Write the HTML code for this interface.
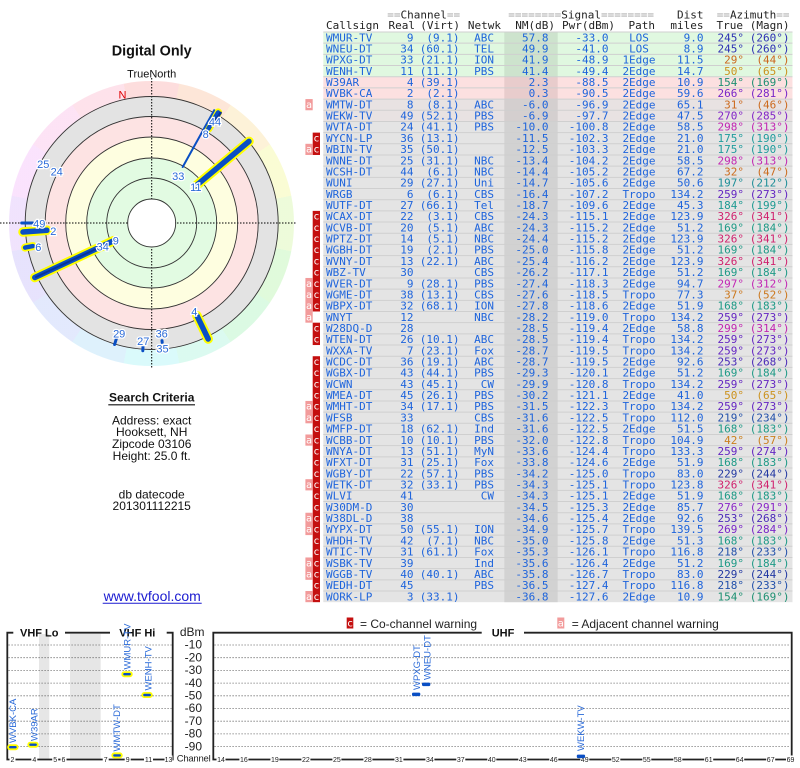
<!DOCTYPE html>
<html><head><meta charset="utf-8"><style>
html,body{margin:0;padding:0;background:#fff;width:800px;height:768px;overflow:hidden;position:relative}
.ring{position:absolute;border-radius:50%}
svg{position:absolute;left:0;top:0}
.e{text-anchor:end}.mid{text-anchor:middle}
.pl text{paint-order:stroke}
</style></head><body>
<div class="ring" style="left:9.2px;top:80.5px;width:285px;height:285px;background:conic-gradient(from -11.25deg, hsl(0,90%,93%) 0deg 22.5deg, hsl(22,90%,92%) 22.5deg 45deg, hsl(42,90%,92%) 45deg 67.5deg, hsl(62,85%,91%) 67.5deg 90deg, hsl(85,80%,92%) 90deg 112.5deg, hsl(110,75%,92%) 112.5deg 135deg, hsl(135,75%,92%) 135deg 157.5deg, hsl(160,75%,92%) 157.5deg 180deg, hsl(182,80%,92%) 180deg 202.5deg, hsl(202,85%,93%) 202.5deg 225deg, hsl(225,85%,94%) 225deg 247.5deg, hsl(250,85%,94%) 247.5deg 270deg, hsl(272,85%,94%) 270deg 292.5deg, hsl(295,85%,94%) 292.5deg 315deg, hsl(318,85%,94%) 315deg 337.5deg, hsl(340,90%,94%) 337.5deg 360deg)"></div>
<div class="ring" style="left:25.2px;top:96.5px;width:253px;height:253px;background:#e3e3e3"></div>
<div class="ring" style="left:45.2px;top:116.5px;width:213px;height:213px;background:#fde3e3"></div>
<div class="ring" style="left:65.7px;top:137px;width:172px;height:172px;background:#fefee0"></div>
<div class="ring" style="left:86.7px;top:158px;width:130px;height:130px;background:#e2fbe2"></div>

<svg width="800" height="768" viewBox="0 0 800 768" xmlns="http://www.w3.org/2000/svg">
<!-- ============ POLAR PLOT ============ -->
<g font-family="Liberation Sans, Arial, sans-serif">
<text x="151.7" y="55.5" class="mid" font-size="14.4" font-weight="bold" fill="#111">Digital Only</text>
<text x="151.7" y="77.5" class="mid" font-size="11" fill="#111">TrueNorth</text>
</g>
<g stroke="#000" stroke-width="1" stroke-dasharray="1.5,1.5">
<line x1="0" y1="223" x2="297" y2="223"/>
<line x1="151.7" y1="78" x2="151.7" y2="368"/>
</g>
<circle cx="151.7" cy="223" r="23.5" fill="#fff"/>
<g fill="none" stroke="#333" stroke-width="0.9">
<circle cx="151.7" cy="223" r="24"/>
<circle cx="151.7" cy="223" r="45"/>
<circle cx="151.7" cy="223" r="65"/>
<circle cx="151.7" cy="223" r="86"/>
<circle cx="151.7" cy="223" r="106.5"/>
<circle cx="151.7" cy="223" r="126.5"/>
</g>
<text x="122.5" y="98.3" class="mid" font-family="Liberation Sans, Arial, sans-serif" font-size="11" fill="#e00000">N</text>
<!-- bars -->
<g stroke-linecap="round">
<g stroke="#ffff00">
<line x1="113.6" y1="240.7" x2="34.8" y2="277.5" stroke-width="9.5"/>
<line x1="196.1" y1="185.7" x2="249" y2="141.4" stroke-width="9.5"/>
<line x1="47" y1="230.3" x2="23" y2="232" stroke-width="9.5"/>
<line x1="196.9" y1="315.6" x2="208.2" y2="339" stroke-width="9.5"/>
<line x1="208.4" y1="128.7" x2="218.1" y2="112.4" stroke-width="8"/>
<line x1="32.9" y1="246.1" x2="25.1" y2="247.6" stroke-width="8"/>
</g>
<g stroke="#0a4fc4">
<line x1="113.6" y1="240.7" x2="34.8" y2="277.5" stroke-width="5.5"/>
<line x1="196.1" y1="185.7" x2="249" y2="141.4" stroke-width="5.5"/>
<line x1="47" y1="230.3" x2="23" y2="232" stroke-width="5.5"/>
<line x1="196.9" y1="315.6" x2="208.2" y2="339" stroke-width="5.5"/>
<line x1="208.4" y1="128.7" x2="218.1" y2="112.4" stroke-width="4.5"/>
<line x1="32.9" y1="246.1" x2="25.1" y2="247.6" stroke-width="4.5"/>
<line x1="182.7" y1="167" x2="214.2" y2="110.2" stroke-width="2"/>
<line x1="32.7" y1="223" x2="21.7" y2="223" stroke-width="3"/>
<line x1="116.6" y1="337.8" x2="114.6" y2="344.5" stroke-width="3"/>
<line x1="143" y1="346.7" x2="142.8" y2="350.7" stroke-width="3"/>
<line x1="162" y1="340.6" x2="162.2" y2="342.5" stroke-width="3"/>
</g>
<line x1="104.6" y1="245" x2="36" y2="277" stroke="#08359a" stroke-width="2"/>
<line x1="214.2" y1="122.9" x2="220.6" y2="112.8" stroke="#08359a" stroke-width="2.5"/>
</g>
<g class="pl" font-family="Liberation Sans, Arial, sans-serif" font-size="11" fill="#2a6ad8" stroke="#fff" stroke-width="2.5" text-anchor="middle">
<text x="215" y="125.7">44</text>
<text x="205.7" y="138">8</text>
<text x="178.3" y="179.8">33</text>
<text x="195.8" y="191">11</text>
<text x="43.3" y="168">25</text>
<text x="56.7" y="175.7">24</text>
<text x="39.3" y="227.3">49</text>
<text x="53.3" y="234.8">2</text>
<text x="38.3" y="251">6</text>
<text x="102.8" y="250.5">34</text>
<text x="115.8" y="244.3">9</text>
<text x="194.3" y="315.7">4</text>
<text x="119.2" y="337.3">29</text>
<text x="143.3" y="345">27</text>
<text x="161.7" y="337.3">36</text>
<text x="162.5" y="352.5">35</text>
</g>

<!-- ============ SEARCH CRITERIA ============ -->
<g font-family="Liberation Sans, Arial, sans-serif" fill="#111" text-anchor="middle">
<text x="151.7" y="401.5" font-size="12" font-weight="bold">Search Criteria</text>
<line x1="108.3" y1="404.8" x2="195" y2="404.8" stroke="#111" stroke-width="1.2"/>
<text x="151.7" y="424.3" font-size="12">Address: exact</text>
<text x="151.7" y="436.2" font-size="12">Hooksett, NH</text>
<text x="151.7" y="448.1" font-size="12">Zipcode 03106</text>
<text x="151.7" y="460" font-size="12">Height: 25.0 ft.</text>
<text x="151.7" y="498.3" font-size="12">db datecode</text>
<text x="151.7" y="510" font-size="12">201301112215</text>
<text x="152.2" y="601" font-size="14" fill="#1a1ad0">www.tvfool.com</text>
<line x1="102.7" y1="603.2" x2="201.7" y2="603.2" stroke="#1a1ad0" stroke-width="1"/>
</g>

<!-- ============ TABLE BACKGROUND ============ -->
<rect x="323.3" y="32" width="469.2" height="44.72" fill="#e0f8e0"/>
<rect x="323.3" y="76.72" width="469.2" height="22.36" fill="#fce0e0"/>
<rect x="323.3" y="99.08" width="469.2" height="22.36" fill="#e8e2e2"/>
<rect x="323.3" y="121.44" width="469.2" height="480.74" fill="#e4e4e4"/>
<rect x="504.3" y="32" width="53.4" height="44.72" fill="#cde3cd"/>
<rect x="504.3" y="76.72" width="53.4" height="22.36" fill="#e8cccc"/>
<rect x="504.3" y="99.08" width="53.4" height="22.36" fill="#d4cfcf"/>
<rect x="504.3" y="121.44" width="53.4" height="480.74" fill="#d2d2d2"/>
<g stroke="#cfcfcf" stroke-width="1">
<line x1="323.3" x2="792.5" y1="32" y2="32"/><line x1="323.3" x2="792.5" y1="43.18" y2="43.18"/><line x1="323.3" x2="792.5" y1="54.36" y2="54.36"/><line x1="323.3" x2="792.5" y1="65.54" y2="65.54"/><line x1="323.3" x2="792.5" y1="76.72" y2="76.72"/><line x1="323.3" x2="792.5" y1="87.9" y2="87.9"/><line x1="323.3" x2="792.5" y1="99.08" y2="99.08"/><line x1="323.3" x2="792.5" y1="110.26" y2="110.26"/><line x1="323.3" x2="792.5" y1="121.44" y2="121.44"/><line x1="323.3" x2="792.5" y1="132.62" y2="132.62"/><line x1="323.3" x2="792.5" y1="143.8" y2="143.8"/><line x1="323.3" x2="792.5" y1="154.98" y2="154.98"/><line x1="323.3" x2="792.5" y1="166.16" y2="166.16"/><line x1="323.3" x2="792.5" y1="177.34" y2="177.34"/><line x1="323.3" x2="792.5" y1="188.52" y2="188.52"/><line x1="323.3" x2="792.5" y1="199.7" y2="199.7"/><line x1="323.3" x2="792.5" y1="210.88" y2="210.88"/><line x1="323.3" x2="792.5" y1="222.06" y2="222.06"/><line x1="323.3" x2="792.5" y1="233.24" y2="233.24"/><line x1="323.3" x2="792.5" y1="244.42" y2="244.42"/><line x1="323.3" x2="792.5" y1="255.6" y2="255.6"/><line x1="323.3" x2="792.5" y1="266.78" y2="266.78"/><line x1="323.3" x2="792.5" y1="277.96" y2="277.96"/><line x1="323.3" x2="792.5" y1="289.14" y2="289.14"/><line x1="323.3" x2="792.5" y1="300.32" y2="300.32"/><line x1="323.3" x2="792.5" y1="311.5" y2="311.5"/><line x1="323.3" x2="792.5" y1="322.68" y2="322.68"/><line x1="323.3" x2="792.5" y1="333.86" y2="333.86"/><line x1="323.3" x2="792.5" y1="345.04" y2="345.04"/><line x1="323.3" x2="792.5" y1="356.22" y2="356.22"/><line x1="323.3" x2="792.5" y1="367.4" y2="367.4"/><line x1="323.3" x2="792.5" y1="378.58" y2="378.58"/><line x1="323.3" x2="792.5" y1="389.76" y2="389.76"/><line x1="323.3" x2="792.5" y1="400.94" y2="400.94"/><line x1="323.3" x2="792.5" y1="412.12" y2="412.12"/><line x1="323.3" x2="792.5" y1="423.3" y2="423.3"/><line x1="323.3" x2="792.5" y1="434.48" y2="434.48"/><line x1="323.3" x2="792.5" y1="445.66" y2="445.66"/><line x1="323.3" x2="792.5" y1="456.84" y2="456.84"/><line x1="323.3" x2="792.5" y1="468.02" y2="468.02"/><line x1="323.3" x2="792.5" y1="479.2" y2="479.2"/><line x1="323.3" x2="792.5" y1="490.38" y2="490.38"/><line x1="323.3" x2="792.5" y1="501.56" y2="501.56"/><line x1="323.3" x2="792.5" y1="512.74" y2="512.74"/><line x1="323.3" x2="792.5" y1="523.92" y2="523.92"/><line x1="323.3" x2="792.5" y1="535.1" y2="535.1"/><line x1="323.3" x2="792.5" y1="546.28" y2="546.28"/><line x1="323.3" x2="792.5" y1="557.46" y2="557.46"/><line x1="323.3" x2="792.5" y1="568.64" y2="568.64"/><line x1="323.3" x2="792.5" y1="579.82" y2="579.82"/><line x1="323.3" x2="792.5" y1="591" y2="591"/>
</g>

<!-- warning marks -->
<g fill="#c40f0f">
<rect x="312.7" y="132.62" width="7.3" height="22.36"/>
<rect x="312.7" y="210.88" width="7.3" height="100.62"/>
<rect x="312.7" y="322.68" width="7.3" height="22.36"/>
<rect x="312.7" y="356.22" width="7.3" height="245.96"/>
</g>
<g fill="#f29b9b">
<rect x="305.4" y="99.08" width="7.3" height="11.18"/>
<rect x="305.4" y="143.8" width="7.3" height="11.18"/>
<rect x="305.4" y="277.96" width="7.3" height="44.72"/>
<rect x="305.4" y="400.94" width="7.3" height="22.36"/>
<rect x="305.4" y="434.48" width="7.3" height="11.18"/>
<rect x="305.4" y="479.2" width="7.3" height="11.18"/>
<rect x="305.4" y="512.74" width="7.3" height="22.36"/>
<rect x="305.4" y="557.46" width="7.3" height="22.36"/>
<rect x="305.4" y="591" width="7.3" height="11.18"/>
</g>
<g font-family="DejaVu Sans Mono, Liberation Mono, monospace" font-size="10" fill="#fff" text-anchor="middle">
<text x="309" y="107.9">a</text><text x="309" y="152.6">a</text><text x="309" y="286.8">a</text><text x="309" y="297.9">a</text><text x="309" y="309.1">a</text><text x="309" y="320.3">a</text><text x="309" y="409.7">a</text><text x="309" y="420.9">a</text><text x="309" y="443.3">a</text><text x="309" y="488">a</text><text x="309" y="521.5">a</text><text x="309" y="532.7">a</text><text x="309" y="566.3">a</text><text x="309" y="577.4">a</text><text x="309" y="599.8">a</text>
<text x="316.4" y="141.4">c</text><text x="316.4" y="152.6">c</text><text x="316.4" y="219.7">c</text><text x="316.4" y="230.9">c</text><text x="316.4" y="242">c</text><text x="316.4" y="253.2">c</text><text x="316.4" y="264.4">c</text><text x="316.4" y="275.6">c</text><text x="316.4" y="286.8">c</text><text x="316.4" y="297.9">c</text><text x="316.4" y="309.1">c</text><text x="316.4" y="331.5">c</text><text x="316.4" y="342.7">c</text><text x="316.4" y="365">c</text><text x="316.4" y="376.2">c</text><text x="316.4" y="387.4">c</text><text x="316.4" y="398.6">c</text><text x="316.4" y="409.7">c</text><text x="316.4" y="420.9">c</text><text x="316.4" y="432.1">c</text><text x="316.4" y="443.3">c</text><text x="316.4" y="454.5">c</text><text x="316.4" y="465.6">c</text><text x="316.4" y="476.8">c</text><text x="316.4" y="488">c</text><text x="316.4" y="499.2">c</text><text x="316.4" y="510.4">c</text><text x="316.4" y="521.5">c</text><text x="316.4" y="532.7">c</text><text x="316.4" y="543.9">c</text><text x="316.4" y="555.1">c</text><text x="316.4" y="566.3">c</text><text x="316.4" y="577.4">c</text><text x="316.4" y="588.6">c</text><text x="316.4" y="599.8">c</text>
</g>

<!-- ============ TABLE TEXT ============ -->
<g font-family="DejaVu Sans Mono, Liberation Mono, monospace" font-size="11" fill="#222">
<text x="387.3" y="18.3"><tspan fill="#a0a0a0">==</tspan>Channel<tspan fill="#a0a0a0">==</tspan></text>
<text x="508.3" y="18.3"><tspan fill="#a0a0a0">========</tspan>Signal<tspan fill="#a0a0a0">========</tspan></text>
<text x="703.5" y="18.3" class="e">Dist</text>
<text x="716.7" y="18.3"><tspan fill="#a0a0a0">==</tspan>Azimuth<tspan fill="#a0a0a0">==</tspan></text>
<text x="326" y="29.2">Callsign</text>
<text x="415" y="29.2" class="e">Real</text>
<text x="460" y="29.2" class="e">(Virt)</text>
<text x="501" y="29.2" class="e">Netwk</text>
<text x="555" y="29.2" class="e">NM(dB)</text>
<text x="615" y="29.2" class="e">Pwr(dBm)</text>
<text x="655" y="29.2" class="e">Path</text>
<text x="703.5" y="29.2" class="e">miles</text>
<text x="743" y="29.2" class="e">True</text>
<text x="789.5" y="29.2" class="e">(Magn)</text>
</g>

<g font-family="DejaVu Sans Mono, Liberation Mono, monospace" font-size="11" fill="#1e64dc">
<g transform="translate(0,41.3)"><text x="326">WMUR-TV</text><text class="e" x="413.5">9</text><text class="e" x="459.5">(9.1)</text><text class="e" x="494">ABC</text><text class="e" x="548.5">57.8</text><text class="e" x="608.5">-33.0</text><text class="mid" x="639">LOS</text><text class="e" x="703.5">9.0</text><g fill="#2e2eb4"><text class="e" x="744">245°</text><text class="e" x="789.5">(260°)</text></g></g>
<g transform="translate(0,52.48)"><text x="326">WNEU-DT</text><text class="e" x="413.5">34</text><text class="e" x="459.5">(60.1)</text><text class="e" x="494">TEL</text><text class="e" x="548.5">49.9</text><text class="e" x="608.5">-41.0</text><text class="mid" x="639">LOS</text><text class="e" x="703.5">8.9</text><g fill="#2e2eb4"><text class="e" x="744">245°</text><text class="e" x="789.5">(260°)</text></g></g>
<g transform="translate(0,63.66)"><text x="326">WPXG-DT</text><text class="e" x="413.5">33</text><text class="e" x="459.5">(21.1)</text><text class="e" x="494">ION</text><text class="e" x="548.5">41.9</text><text class="e" x="608.5">-48.9</text><text class="mid" x="639">1Edge</text><text class="e" x="703.5">11.5</text><g fill="#cc661e"><text class="e" x="744">29°</text><text class="e" x="789.5">(44°)</text></g></g>
<g transform="translate(0,74.84)"><text x="326">WENH-TV</text><text class="e" x="413.5">11</text><text class="e" x="459.5">(11.1)</text><text class="e" x="494">PBS</text><text class="e" x="548.5">41.4</text><text class="e" x="608.5">-49.4</text><text class="mid" x="639">2Edge</text><text class="e" x="703.5">14.7</text><g fill="#cc921e"><text class="e" x="744">50°</text><text class="e" x="789.5">(65°)</text></g></g>
<g transform="translate(0,86.02)"><text x="326">W39AR</text><text class="e" x="413.5">4</text><text class="e" x="459.5">(39.1)</text><text class="e" x="548.5">2.3</text><text class="e" x="608.5">-88.5</text><text class="mid" x="639">2Edge</text><text class="e" x="703.5">10.9</text><g fill="#1e9072"><text class="e" x="744">154°</text><text class="e" x="789.5">(169°)</text></g></g>
<g transform="translate(0,97.2)"><text x="326">WVBK-CA</text><text class="e" x="413.5">2</text><text class="e" x="459.5">(2.1)</text><text class="e" x="548.5">0.3</text><text class="e" x="608.5">-90.5</text><text class="mid" x="639">2Edge</text><text class="e" x="703.5">59.6</text><g fill="#7826c8"><text class="e" x="744">266°</text><text class="e" x="789.5">(281°)</text></g></g>
<g transform="translate(0,108.38)"><text x="326">WMTW-DT</text><text class="e" x="413.5">8</text><text class="e" x="459.5">(8.1)</text><text class="e" x="494">ABC</text><text class="e" x="548.5">-6.0</text><text class="e" x="608.5">-96.9</text><text class="mid" x="639">2Edge</text><text class="e" x="703.5">65.1</text><g fill="#cc6a1e"><text class="e" x="744">31°</text><text class="e" x="789.5">(46°)</text></g></g>
<g transform="translate(0,119.56)"><text x="326">WEKW-TV</text><text class="e" x="413.5">49</text><text class="e" x="459.5">(52.1)</text><text class="e" x="494">PBS</text><text class="e" x="548.5">-6.9</text><text class="e" x="608.5">-97.7</text><text class="mid" x="639">2Edge</text><text class="e" x="703.5">47.5</text><g fill="#8226c8"><text class="e" x="744">270°</text><text class="e" x="789.5">(285°)</text></g></g>
<g transform="translate(0,130.74)"><text x="326">WVTA-DT</text><text class="e" x="413.5">24</text><text class="e" x="459.5">(41.1)</text><text class="e" x="494">PBS</text><text class="e" x="548.5">-10.0</text><text class="e" x="608.5">-100.8</text><text class="mid" x="639">2Edge</text><text class="e" x="703.5">58.5</text><g fill="#c226b2"><text class="e" x="744">298°</text><text class="e" x="789.5">(313°)</text></g></g>
<g transform="translate(0,141.92)"><text x="326">WYCN-LP</text><text class="e" x="413.5">36</text><text class="e" x="459.5">(13.1)</text><text class="e" x="548.5">-11.5</text><text class="e" x="608.5">-102.3</text><text class="mid" x="639">2Edge</text><text class="e" x="703.5">21.0</text><g fill="#1e9c9c"><text class="e" x="744">175°</text><text class="e" x="789.5">(190°)</text></g></g>
<g transform="translate(0,153.1)"><text x="326">WBIN-TV</text><text class="e" x="413.5">35</text><text class="e" x="459.5">(50.1)</text><text class="e" x="548.5">-12.5</text><text class="e" x="608.5">-103.3</text><text class="mid" x="639">2Edge</text><text class="e" x="703.5">21.0</text><g fill="#1e9c9c"><text class="e" x="744">175°</text><text class="e" x="789.5">(190°)</text></g></g>
<g transform="translate(0,164.28)"><text x="326">WNNE-DT</text><text class="e" x="413.5">25</text><text class="e" x="459.5">(31.1)</text><text class="e" x="494">NBC</text><text class="e" x="548.5">-13.4</text><text class="e" x="608.5">-104.2</text><text class="mid" x="639">2Edge</text><text class="e" x="703.5">58.5</text><g fill="#c226b2"><text class="e" x="744">298°</text><text class="e" x="789.5">(313°)</text></g></g>
<g transform="translate(0,175.46)"><text x="326">WCSH-DT</text><text class="e" x="413.5">44</text><text class="e" x="459.5">(6.1)</text><text class="e" x="494">NBC</text><text class="e" x="548.5">-14.4</text><text class="e" x="608.5">-105.2</text><text class="mid" x="639">2Edge</text><text class="e" x="703.5">67.2</text><g fill="#cc6c1e"><text class="e" x="744">32°</text><text class="e" x="789.5">(47°)</text></g></g>
<g transform="translate(0,186.64)"><text x="326">WUNI</text><text class="e" x="413.5">29</text><text class="e" x="459.5">(27.1)</text><text class="e" x="494">Uni</text><text class="e" x="548.5">-14.7</text><text class="e" x="608.5">-105.6</text><text class="mid" x="639">2Edge</text><text class="e" x="703.5">50.6</text><g fill="#1e8e98"><text class="e" x="744">197°</text><text class="e" x="789.5">(212°)</text></g></g>
<g transform="translate(0,197.82)"><text x="326">WRGB</text><text class="e" x="413.5">6</text><text class="e" x="459.5">(6.1)</text><text class="e" x="494">CBS</text><text class="e" x="548.5">-16.4</text><text class="e" x="608.5">-107.2</text><text class="mid" x="639">Tropo</text><text class="e" x="703.5">134.2</text><g fill="#6426c2"><text class="e" x="744">259°</text><text class="e" x="789.5">(273°)</text></g></g>
<g transform="translate(0,209)"><text x="326">WUTF-DT</text><text class="e" x="413.5">27</text><text class="e" x="459.5">(66.1)</text><text class="e" x="494">Tel</text><text class="e" x="548.5">-18.7</text><text class="e" x="608.5">-109.6</text><text class="mid" x="639">2Edge</text><text class="e" x="703.5">45.3</text><g fill="#1e9a92"><text class="e" x="744">184°</text><text class="e" x="789.5">(199°)</text></g></g>
<g transform="translate(0,220.18)"><text x="326">WCAX-DT</text><text class="e" x="413.5">22</text><text class="e" x="459.5">(3.1)</text><text class="e" x="494">CBS</text><text class="e" x="548.5">-24.3</text><text class="e" x="608.5">-115.1</text><text class="mid" x="639">2Edge</text><text class="e" x="703.5">123.9</text><g fill="#d0226e"><text class="e" x="744">326°</text><text class="e" x="789.5">(341°)</text></g></g>
<g transform="translate(0,231.36)"><text x="326">WCVB-DT</text><text class="e" x="413.5">20</text><text class="e" x="459.5">(5.1)</text><text class="e" x="494">ABC</text><text class="e" x="548.5">-24.3</text><text class="e" x="608.5">-115.2</text><text class="mid" x="639">2Edge</text><text class="e" x="703.5">51.2</text><g fill="#1e9a86"><text class="e" x="744">169°</text><text class="e" x="789.5">(184°)</text></g></g>
<g transform="translate(0,242.54)"><text x="326">WPTZ-DT</text><text class="e" x="413.5">14</text><text class="e" x="459.5">(5.1)</text><text class="e" x="494">NBC</text><text class="e" x="548.5">-24.4</text><text class="e" x="608.5">-115.2</text><text class="mid" x="639">2Edge</text><text class="e" x="703.5">123.9</text><g fill="#d0226e"><text class="e" x="744">326°</text><text class="e" x="789.5">(341°)</text></g></g>
<g transform="translate(0,253.72)"><text x="326">WGBH-DT</text><text class="e" x="413.5">19</text><text class="e" x="459.5">(2.1)</text><text class="e" x="494">PBS</text><text class="e" x="548.5">-25.0</text><text class="e" x="608.5">-115.8</text><text class="mid" x="639">2Edge</text><text class="e" x="703.5">51.2</text><g fill="#1e9a86"><text class="e" x="744">169°</text><text class="e" x="789.5">(184°)</text></g></g>
<g transform="translate(0,264.9)"><text x="326">WVNY-DT</text><text class="e" x="413.5">13</text><text class="e" x="459.5">(22.1)</text><text class="e" x="494">ABC</text><text class="e" x="548.5">-25.4</text><text class="e" x="608.5">-116.2</text><text class="mid" x="639">2Edge</text><text class="e" x="703.5">123.9</text><g fill="#d0226e"><text class="e" x="744">326°</text><text class="e" x="789.5">(341°)</text></g></g>
<g transform="translate(0,276.08)"><text x="326">WBZ-TV</text><text class="e" x="413.5">30</text><text class="e" x="494">CBS</text><text class="e" x="548.5">-26.2</text><text class="e" x="608.5">-117.1</text><text class="mid" x="639">2Edge</text><text class="e" x="703.5">51.2</text><g fill="#1e9a86"><text class="e" x="744">169°</text><text class="e" x="789.5">(184°)</text></g></g>
<g transform="translate(0,287.26)"><text x="326">WVER-DT</text><text class="e" x="413.5">9</text><text class="e" x="459.5">(28.1)</text><text class="e" x="494">PBS</text><text class="e" x="548.5">-27.4</text><text class="e" x="608.5">-118.3</text><text class="mid" x="639">2Edge</text><text class="e" x="703.5">94.7</text><g fill="#c226b4"><text class="e" x="744">297°</text><text class="e" x="789.5">(312°)</text></g></g>
<g transform="translate(0,298.44)"><text x="326">WGME-DT</text><text class="e" x="413.5">38</text><text class="e" x="459.5">(13.1)</text><text class="e" x="494">CBS</text><text class="e" x="548.5">-27.6</text><text class="e" x="608.5">-118.5</text><text class="mid" x="639">Tropo</text><text class="e" x="703.5">77.3</text><g fill="#cc781e"><text class="e" x="744">37°</text><text class="e" x="789.5">(52°)</text></g></g>
<g transform="translate(0,309.62)"><text x="326">WBPX-DT</text><text class="e" x="413.5">32</text><text class="e" x="459.5">(68.1)</text><text class="e" x="494">ION</text><text class="e" x="548.5">-27.8</text><text class="e" x="608.5">-118.6</text><text class="mid" x="639">2Edge</text><text class="e" x="703.5">51.9</text><g fill="#1e9a86"><text class="e" x="744">168°</text><text class="e" x="789.5">(183°)</text></g></g>
<g transform="translate(0,320.8)"><text x="326">WNYT</text><text class="e" x="413.5">12</text><text class="e" x="494">NBC</text><text class="e" x="548.5">-28.2</text><text class="e" x="608.5">-119.0</text><text class="mid" x="639">Tropo</text><text class="e" x="703.5">134.2</text><g fill="#6426c2"><text class="e" x="744">259°</text><text class="e" x="789.5">(273°)</text></g></g>
<g transform="translate(0,331.98)"><text x="326">W28DQ-D</text><text class="e" x="413.5">28</text><text class="e" x="548.5">-28.5</text><text class="e" x="608.5">-119.4</text><text class="mid" x="639">2Edge</text><text class="e" x="703.5">58.8</text><g fill="#c226b0"><text class="e" x="744">299°</text><text class="e" x="789.5">(314°)</text></g></g>
<g transform="translate(0,343.16)"><text x="326">WTEN-DT</text><text class="e" x="413.5">26</text><text class="e" x="459.5">(10.1)</text><text class="e" x="494">ABC</text><text class="e" x="548.5">-28.5</text><text class="e" x="608.5">-119.4</text><text class="mid" x="639">Tropo</text><text class="e" x="703.5">134.2</text><g fill="#6426c2"><text class="e" x="744">259°</text><text class="e" x="789.5">(273°)</text></g></g>
<g transform="translate(0,354.34)"><text x="326">WXXA-TV</text><text class="e" x="413.5">7</text><text class="e" x="459.5">(23.1)</text><text class="e" x="494">Fox</text><text class="e" x="548.5">-28.7</text><text class="e" x="608.5">-119.5</text><text class="mid" x="639">Tropo</text><text class="e" x="703.5">134.2</text><g fill="#6426c2"><text class="e" x="744">259°</text><text class="e" x="789.5">(273°)</text></g></g>
<g transform="translate(0,365.52)"><text x="326">WCDC-DT</text><text class="e" x="413.5">36</text><text class="e" x="459.5">(19.1)</text><text class="e" x="494">ABC</text><text class="e" x="548.5">-28.7</text><text class="e" x="608.5">-119.5</text><text class="mid" x="639">2Edge</text><text class="e" x="703.5">92.6</text><g fill="#4a2ab8"><text class="e" x="744">253°</text><text class="e" x="789.5">(268°)</text></g></g>
<g transform="translate(0,376.7)"><text x="326">WGBX-DT</text><text class="e" x="413.5">43</text><text class="e" x="459.5">(44.1)</text><text class="e" x="494">PBS</text><text class="e" x="548.5">-29.3</text><text class="e" x="608.5">-120.1</text><text class="mid" x="639">2Edge</text><text class="e" x="703.5">51.2</text><g fill="#1e9a86"><text class="e" x="744">169°</text><text class="e" x="789.5">(184°)</text></g></g>
<g transform="translate(0,387.88)"><text x="326">WCWN</text><text class="e" x="413.5">43</text><text class="e" x="459.5">(45.1)</text><text class="e" x="494">CW</text><text class="e" x="548.5">-29.9</text><text class="e" x="608.5">-120.8</text><text class="mid" x="639">Tropo</text><text class="e" x="703.5">134.2</text><g fill="#6426c2"><text class="e" x="744">259°</text><text class="e" x="789.5">(273°)</text></g></g>
<g transform="translate(0,399.06)"><text x="326">WMEA-DT</text><text class="e" x="413.5">45</text><text class="e" x="459.5">(26.1)</text><text class="e" x="494">PBS</text><text class="e" x="548.5">-30.2</text><text class="e" x="608.5">-121.1</text><text class="mid" x="639">2Edge</text><text class="e" x="703.5">41.0</text><g fill="#cc921e"><text class="e" x="744">50°</text><text class="e" x="789.5">(65°)</text></g></g>
<g transform="translate(0,410.24)"><text x="326">WMHT-DT</text><text class="e" x="413.5">34</text><text class="e" x="459.5">(17.1)</text><text class="e" x="494">PBS</text><text class="e" x="548.5">-31.5</text><text class="e" x="608.5">-122.3</text><text class="mid" x="639">Tropo</text><text class="e" x="703.5">134.2</text><g fill="#6426c2"><text class="e" x="744">259°</text><text class="e" x="789.5">(273°)</text></g></g>
<g transform="translate(0,421.42)"><text x="326">WFSB</text><text class="e" x="413.5">33</text><text class="e" x="494">CBS</text><text class="e" x="548.5">-31.6</text><text class="e" x="608.5">-122.5</text><text class="mid" x="639">Tropo</text><text class="e" x="703.5">112.0</text><g fill="#2250aa"><text class="e" x="744">219°</text><text class="e" x="789.5">(234°)</text></g></g>
<g transform="translate(0,432.6)"><text x="326">WMFP-DT</text><text class="e" x="413.5">18</text><text class="e" x="459.5">(62.1)</text><text class="e" x="494">Ind</text><text class="e" x="548.5">-31.6</text><text class="e" x="608.5">-122.5</text><text class="mid" x="639">2Edge</text><text class="e" x="703.5">51.5</text><g fill="#1e9a86"><text class="e" x="744">168°</text><text class="e" x="789.5">(183°)</text></g></g>
<g transform="translate(0,443.78)"><text x="326">WCBB-DT</text><text class="e" x="413.5">10</text><text class="e" x="459.5">(10.1)</text><text class="e" x="494">PBS</text><text class="e" x="548.5">-32.0</text><text class="e" x="608.5">-122.8</text><text class="mid" x="639">Tropo</text><text class="e" x="703.5">104.9</text><g fill="#cc801e"><text class="e" x="744">42°</text><text class="e" x="789.5">(57°)</text></g></g>
<g transform="translate(0,454.96)"><text x="326">WNYA-DT</text><text class="e" x="413.5">13</text><text class="e" x="459.5">(51.1)</text><text class="e" x="494">MyN</text><text class="e" x="548.5">-33.6</text><text class="e" x="608.5">-124.4</text><text class="mid" x="639">Tropo</text><text class="e" x="703.5">133.3</text><g fill="#6426c2"><text class="e" x="744">259°</text><text class="e" x="789.5">(274°)</text></g></g>
<g transform="translate(0,466.14)"><text x="326">WFXT-DT</text><text class="e" x="413.5">31</text><text class="e" x="459.5">(25.1)</text><text class="e" x="494">Fox</text><text class="e" x="548.5">-33.8</text><text class="e" x="608.5">-124.6</text><text class="mid" x="639">2Edge</text><text class="e" x="703.5">51.9</text><g fill="#1e9a86"><text class="e" x="744">168°</text><text class="e" x="789.5">(183°)</text></g></g>
<g transform="translate(0,477.32)"><text x="326">WGBY-DT</text><text class="e" x="413.5">22</text><text class="e" x="459.5">(57.1)</text><text class="e" x="494">PBS</text><text class="e" x="548.5">-34.2</text><text class="e" x="608.5">-125.0</text><text class="mid" x="639">Tropo</text><text class="e" x="703.5">83.0</text><g fill="#2238a2"><text class="e" x="744">229°</text><text class="e" x="789.5">(244°)</text></g></g>
<g transform="translate(0,488.5)"><text x="326">WETK-DT</text><text class="e" x="413.5">32</text><text class="e" x="459.5">(33.1)</text><text class="e" x="494">PBS</text><text class="e" x="548.5">-34.3</text><text class="e" x="608.5">-125.1</text><text class="mid" x="639">Tropo</text><text class="e" x="703.5">123.8</text><g fill="#d0226e"><text class="e" x="744">326°</text><text class="e" x="789.5">(341°)</text></g></g>
<g transform="translate(0,499.68)"><text x="326">WLVI</text><text class="e" x="413.5">41</text><text class="e" x="494">CW</text><text class="e" x="548.5">-34.3</text><text class="e" x="608.5">-125.1</text><text class="mid" x="639">2Edge</text><text class="e" x="703.5">51.9</text><g fill="#1e9a86"><text class="e" x="744">168°</text><text class="e" x="789.5">(183°)</text></g></g>
<g transform="translate(0,510.86)"><text x="326">W30DM-D</text><text class="e" x="413.5">30</text><text class="e" x="548.5">-34.5</text><text class="e" x="608.5">-125.3</text><text class="mid" x="639">2Edge</text><text class="e" x="703.5">85.7</text><g fill="#8a26c8"><text class="e" x="744">276°</text><text class="e" x="789.5">(291°)</text></g></g>
<g transform="translate(0,522.04)"><text x="326">W38DL-D</text><text class="e" x="413.5">38</text><text class="e" x="548.5">-34.6</text><text class="e" x="608.5">-125.4</text><text class="mid" x="639">2Edge</text><text class="e" x="703.5">92.6</text><g fill="#4a2ab8"><text class="e" x="744">253°</text><text class="e" x="789.5">(268°)</text></g></g>
<g transform="translate(0,533.22)"><text x="326">WYPX-DT</text><text class="e" x="413.5">50</text><text class="e" x="459.5">(55.1)</text><text class="e" x="494">ION</text><text class="e" x="548.5">-34.9</text><text class="e" x="608.5">-125.7</text><text class="mid" x="639">Tropo</text><text class="e" x="703.5">139.5</text><g fill="#7a26c8"><text class="e" x="744">269°</text><text class="e" x="789.5">(284°)</text></g></g>
<g transform="translate(0,544.4)"><text x="326">WHDH-TV</text><text class="e" x="413.5">42</text><text class="e" x="459.5">(7.1)</text><text class="e" x="494">NBC</text><text class="e" x="548.5">-35.0</text><text class="e" x="608.5">-125.8</text><text class="mid" x="639">2Edge</text><text class="e" x="703.5">51.3</text><g fill="#1e9a86"><text class="e" x="744">168°</text><text class="e" x="789.5">(183°)</text></g></g>
<g transform="translate(0,555.58)"><text x="326">WTIC-TV</text><text class="e" x="413.5">31</text><text class="e" x="459.5">(61.1)</text><text class="e" x="494">Fox</text><text class="e" x="548.5">-35.3</text><text class="e" x="608.5">-126.1</text><text class="mid" x="639">Tropo</text><text class="e" x="703.5">116.8</text><g fill="#2250aa"><text class="e" x="744">218°</text><text class="e" x="789.5">(233°)</text></g></g>
<g transform="translate(0,566.76)"><text x="326">WSBK-TV</text><text class="e" x="413.5">39</text><text class="e" x="494">Ind</text><text class="e" x="548.5">-35.6</text><text class="e" x="608.5">-126.4</text><text class="mid" x="639">2Edge</text><text class="e" x="703.5">51.2</text><g fill="#1e9a86"><text class="e" x="744">169°</text><text class="e" x="789.5">(184°)</text></g></g>
<g transform="translate(0,577.94)"><text x="326">WGGB-TV</text><text class="e" x="413.5">40</text><text class="e" x="459.5">(40.1)</text><text class="e" x="494">ABC</text><text class="e" x="548.5">-35.8</text><text class="e" x="608.5">-126.7</text><text class="mid" x="639">Tropo</text><text class="e" x="703.5">83.0</text><g fill="#2238a2"><text class="e" x="744">229°</text><text class="e" x="789.5">(244°)</text></g></g>
<g transform="translate(0,589.12)"><text x="326">WEDH-DT</text><text class="e" x="413.5">45</text><text class="e" x="494">PBS</text><text class="e" x="548.5">-36.5</text><text class="e" x="608.5">-127.4</text><text class="mid" x="639">Tropo</text><text class="e" x="703.5">116.8</text><g fill="#2250aa"><text class="e" x="744">218°</text><text class="e" x="789.5">(233°)</text></g></g>
<g transform="translate(0,600.3)"><text x="326">WORK-LP</text><text class="e" x="413.5">3</text><text class="e" x="459.5">(33.1)</text><text class="e" x="548.5">-36.8</text><text class="e" x="608.5">-127.6</text><text class="mid" x="639">2Edge</text><text class="e" x="703.5">10.9</text><g fill="#1e9072"><text class="e" x="744">154°</text><text class="e" x="789.5">(169°)</text></g></g>
</g>

<!-- ============ LEGEND ============ -->
<rect x="346.7" y="617.5" width="6.6" height="11" fill="#c40f0f"/>
<text x="350" y="626.5" class="mid" font-family="DejaVu Sans Mono, monospace" font-size="10" fill="#fff">c</text>
<text x="360" y="628" font-family="Liberation Sans, Arial, sans-serif" font-size="12" fill="#222">= Co-channel warning</text>
<rect x="557.3" y="617.5" width="7" height="11" fill="#f29b9b"/>
<text x="560.8" y="626.5" class="mid" font-family="DejaVu Sans Mono, monospace" font-size="10" fill="#fff">a</text>
<text x="571.7" y="628" font-family="Liberation Sans, Arial, sans-serif" font-size="12" fill="#222">= Adjacent channel warning</text>

<!-- ============ SPECTRUM CHART ============ -->
<rect x="39" y="634" width="10.3" height="125" fill="#e6e6e6"/>
<rect x="70" y="634" width="30.7" height="125" fill="#e6e6e6"/>
<g stroke="#555" stroke-width="0.8" stroke-dasharray="1.2,1.8">
<line x1="8.5" x2="171.5" y1="645" y2="645"/><line x1="8.5" x2="171.5" y1="657.7" y2="657.7"/><line x1="8.5" x2="171.5" y1="670.4" y2="670.4"/><line x1="8.5" x2="171.5" y1="683.1" y2="683.1"/><line x1="8.5" x2="171.5" y1="695.8" y2="695.8"/><line x1="8.5" x2="171.5" y1="708.5" y2="708.5"/><line x1="8.5" x2="171.5" y1="721.2" y2="721.2"/><line x1="8.5" x2="171.5" y1="733.9" y2="733.9"/><line x1="8.5" x2="171.5" y1="746.6" y2="746.6"/>
<line x1="214.5" x2="790.5" y1="645" y2="645"/><line x1="214.5" x2="790.5" y1="657.7" y2="657.7"/><line x1="214.5" x2="790.5" y1="670.4" y2="670.4"/><line x1="214.5" x2="790.5" y1="683.1" y2="683.1"/><line x1="214.5" x2="790.5" y1="695.8" y2="695.8"/><line x1="214.5" x2="790.5" y1="708.5" y2="708.5"/><line x1="214.5" x2="790.5" y1="721.2" y2="721.2"/><line x1="214.5" x2="790.5" y1="733.9" y2="733.9"/><line x1="214.5" x2="790.5" y1="746.6" y2="746.6"/>
</g>
<g stroke="#222" stroke-width="1.8" fill="none">
<path d="M13.3,632.7 H7.3 V759.5 H172.7 V632.7 H166.7"/>
<line x1="65" y1="632.7" x2="110" y2="632.7"/>
<path d="M481.7,632.7 H213.3 V759.5 H791.7 V632.7 H524"/>
</g>
<g font-family="Liberation Sans, Arial, sans-serif" font-size="11" font-weight="bold" fill="#111">
<text x="20" y="636.3">VHF Lo</text>
<text x="119.3" y="636.3">VHF Hi</text>
<text x="491.7" y="636.3">UHF</text>
</g>
<g font-family="Liberation Sans, Arial, sans-serif" font-size="12" fill="#222" text-anchor="end">
<text x="204.5" y="636">dBm</text>
<text x="202" y="648.7">-10</text><text x="202" y="661.4">-20</text><text x="202" y="674.1">-30</text><text x="202" y="686.8">-40</text><text x="202" y="699.5">-50</text><text x="202" y="712.2">-60</text><text x="202" y="724.9">-70</text><text x="202" y="737.6">-80</text><text x="202" y="750.3">-90</text>
</g>
<text x="176.7" y="761.7" font-family="Liberation Sans, Arial, sans-serif" font-size="9.5" textLength="34" fill="#222">Channel</text>
<!-- tick labels -->
<g fill="#fff">
<rect x="9.5" y="755.5" width="6" height="7.5"/><rect x="31.3" y="755.5" width="6" height="7.5"/><rect x="52.2" y="755.5" width="6" height="7.5"/><rect x="60.5" y="755.5" width="6" height="7.5"/><rect x="102.7" y="755.5" width="6" height="7.5"/><rect x="124.7" y="755.5" width="6" height="7.5"/><rect x="144" y="755.5" width="9" height="7.5"/><rect x="164.5" y="755.5" width="8" height="7.5"/>
<rect x="216.5" y="755.5" width="9" height="7.5"/><rect x="239.4" y="755.5" width="9" height="7.5"/><rect x="270.4" y="755.5" width="9" height="7.5"/><rect x="301.4" y="755.5" width="9" height="7.5"/><rect x="332.4" y="755.5" width="9" height="7.5"/><rect x="363.4" y="755.5" width="9" height="7.5"/><rect x="394.4" y="755.5" width="9" height="7.5"/><rect x="425.4" y="755.5" width="9" height="7.5"/><rect x="456.3" y="755.5" width="9" height="7.5"/><rect x="487.3" y="755.5" width="9" height="7.5"/><rect x="518.3" y="755.5" width="9" height="7.5"/><rect x="549.3" y="755.5" width="9" height="7.5"/><rect x="580.3" y="755.5" width="9" height="7.5"/><rect x="611.3" y="755.5" width="9" height="7.5"/><rect x="642.3" y="755.5" width="9" height="7.5"/><rect x="673.3" y="755.5" width="9" height="7.5"/><rect x="704.2" y="755.5" width="9" height="7.5"/><rect x="735.2" y="755.5" width="9" height="7.5"/><rect x="766.2" y="755.5" width="9" height="7.5"/><rect x="786" y="755.5" width="9" height="7.5"/>
</g>
<g font-family="Liberation Sans, Arial, sans-serif" font-size="7" fill="#222" text-anchor="middle">
<text x="12.5" y="761.8">2</text><text x="34.3" y="761.8">4</text><text x="55.2" y="761.8">5</text><text x="63.5" y="761.8">6</text><text x="105.7" y="761.8">7</text><text x="127.7" y="761.8">9</text><text x="148.5" y="761.8">11</text><text x="168.5" y="761.8">13</text>
<text x="221" y="761.8">14</text><text x="243.9" y="761.8">16</text><text x="274.9" y="761.8">19</text><text x="305.9" y="761.8">22</text><text x="336.9" y="761.8">25</text><text x="367.9" y="761.8">28</text><text x="398.9" y="761.8">31</text><text x="429.9" y="761.8">34</text><text x="460.8" y="761.8">37</text><text x="491.8" y="761.8">40</text><text x="522.8" y="761.8">43</text><text x="553.8" y="761.8">46</text><text x="584.8" y="761.8">49</text><text x="615.8" y="761.8">52</text><text x="646.8" y="761.8">55</text><text x="677.8" y="761.8">58</text><text x="708.7" y="761.8">61</text><text x="739.7" y="761.8">64</text><text x="770.7" y="761.8">67</text><text x="790.5" y="761.8">69</text>
</g>
<!-- markers -->
<g fill="#0a4fc4" stroke="#ffff00" stroke-width="1.8">
<rect x="8.1" y="745.1" width="9.5" height="4.2" rx="2"/>
<rect x="28.3" y="742.6" width="9.5" height="4.2" rx="2"/>
<rect x="112.3" y="753.3" width="9.5" height="4.2" rx="2"/>
<rect x="122.3" y="672.1" width="9.5" height="4.2" rx="2"/>
<rect x="142.3" y="692.9" width="9.5" height="4.2" rx="2"/>
</g>
<g fill="#0a4fc4">
<rect x="412" y="692.6" width="8.3" height="3.5" rx="1.2"/>
<rect x="422" y="682.6" width="8.3" height="3.5" rx="1.2"/>
<rect x="576.8" y="754.6" width="8.3" height="3.5" rx="1.2"/>
</g>
<g font-family="Liberation Sans, Arial, sans-serif" font-size="9.5" fill="#2a6ad8">
<text transform="translate(16,743) rotate(-90)">WVBK-CA</text>
<text transform="translate(37.3,741) rotate(-90)">W39AR</text>
<text transform="translate(120,751.5) rotate(-90)">WMTW-DT</text>
<text transform="translate(130.5,669.5) rotate(-90)">WMUR-TV</text>
<text transform="translate(151.5,690.5) rotate(-90)">WENH-TV</text>
<text transform="translate(420,690) rotate(-90)">WPXG-DT</text>
<text transform="translate(430.7,680) rotate(-90)">WNEU-DT</text>
<text transform="translate(584,751) rotate(-90)">WEKW-TV</text>
</g>
</svg>
</body></html>
